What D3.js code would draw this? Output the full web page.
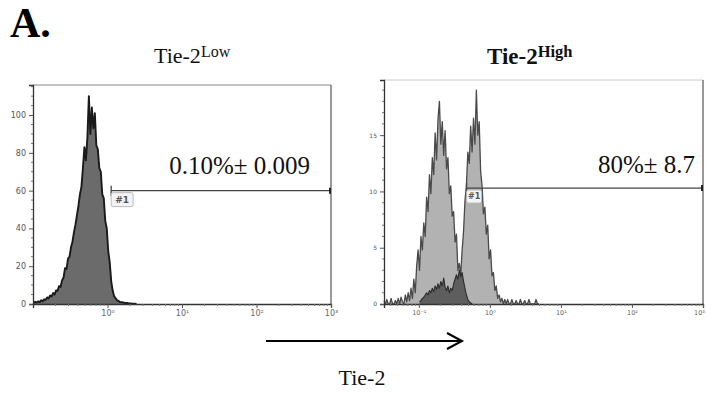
<!DOCTYPE html>
<html><head><meta charset="utf-8">
<script src="https://cdn.jsdelivr.net/npm/d3@7"></script>
<style>body{margin:0;background:#fff}svg{display:block}</style>
</head><body>
<svg id="c" width="706" height="396"></svg>
<script>
// ---- data ----
const binStep = 0.02; // log10 width of each histogram channel
// Tie-2 Low panel histogram (counts), channels start at log10 = -1.0
const lowStart = -1.0;
const lowCounts = [0.5,1.2,0.8,1.4,1.0,2.0,1.5,2.5,2.2,3.5,3.0,4.5,4.0,5.8,5.0,7.2,7.0,9.5,9.0,12.5,14.0,19.0,18.5,24.0,25.0,30.0,33.0,38.0,42.0,47.0,52.0,58.0,62.0,72.0,83.0,76.0,88.0,110.0,90.0,104.0,93.0,101.0,84.0,82.0,72.0,70.0,58.0,56.0,44.0,40.0,28.0,22.0,12.0,7.0,4.0,3.0,2.0,1.5,1.0,1.0,0.8,0.6,0.5,0.5,0.3,0.3,0.2,0.2,0.1,0];
// Tie-2 High panel, light histogram, channels start at log10 = -1.5
const highStart = -1.5;
const highCounts = [0.3,0,0.4,0,0,0.5,0,0,0.3,0,0.5,0,0.6,0.2,0,0.8,0.2,1.0,0.3,1.4,0.5,2.2,1.0,3.4,4.8,3.0,6.0,4.8,7.2,6.0,9.5,8.2,11.5,9.8,13.0,11.5,15.2,12.8,16.4,18.0,14.2,16.2,13.2,15.4,12.0,13.0,9.8,10.5,7.8,8.2,5.5,6.2,3.0,3.6,2.6,4.8,6.5,9.2,10.5,13.5,12.5,15.8,13.5,16.5,14.2,19.0,15.0,16.2,11.8,10.5,8.0,8.6,6.2,7.0,4.0,4.8,2.5,2.8,1.2,1.6,0.5,0.8,0.2,0.5,0,0.4,0,0.4,0,0,0.4,0,0,0.3,0,0,0.4,0,0,0.3,0,0,0.4,0,0,0,0,0.4,0,0];
// Tie-2 High panel, dark overlay histogram, channels start at log10 = -1.0
const ctrlStart = -1.0;
const ctrlCounts = [0.2,0.3,0.5,0.6,0.8,1.0,0.8,1.2,1.0,1.4,1.1,1.6,1.3,1.8,1.4,2.0,1.6,2.3,1.5,1.2,1.6,1.0,1.4,1.2,1.8,2.2,2.6,2.2,3.0,2.4,2.8,2.0,1.4,0.8,0.4,0.2,0.1,0];
// axes
const lowYTicks = [0,20,40,60,80,100];
const highYTicks = [0,5,10,15];
const lowXTicks = [1,10,100,1000];
const highXTicks = [0.1,1,10,100,1000];
const xTickLabels = {"-1":"10⁻¹","0":"10⁰","1":"10¹","2":"10²","3":"10³"};
// gates [from, to, level]
const lowGate = [1.12, 1000, 60];
const highGate = [0.47, 1000, 10.3];
const lowPct = "0.10%± 0.009";
const highPct = "80%± 8.7";

const svg = d3.select("#c");
const serif = "'Liberation Serif','Times New Roman',serif";
const sans = "'DejaVu Sans',sans-serif";

function panel(o){
  const g = svg.append("g");
  const x = d3.scaleLog().domain(o.xDomain).range([o.left,o.right]);
  const y = d3.scaleLinear().domain(o.yDomain).range([o.bottom,o.top]);
  // histograms
  o.hists.forEach(h=>{
    const pts = h.counts.map((c,i)=>({x:Math.pow(10,h.start+i*binStep+binStep/2),v:c}));
    const area = d3.area().x(d=>x(d.x)).y0(y(0)).y1(d=>y(d.v));
    const line = d3.line().x(d=>x(d.x)).y(d=>y(d.v));
    g.append("path").attr("d",area(pts)).attr("fill",h.fill);
    g.append("path").attr("d",line(pts)).attr("fill","none").attr("stroke",h.stroke).attr("stroke-width",h.sw).attr("stroke-linejoin","round");
  });
  // frame
  g.append("line").attr("x1",o.left).attr("x2",o.right).attr("y1",o.top).attr("y2",o.top).attr("stroke",o.topColor).attr("stroke-width",1);
  g.append("line").attr("x1",o.right).attr("x2",o.right).attr("y1",o.top).attr("y2",o.bottom).attr("stroke","#555").attr("stroke-width",1.2);
  // y axis
  const ya = d3.axisLeft(y).tickValues(o.yTicks).tickSize(4).tickPadding(3);
  const yg = g.append("g").attr("transform",`translate(${o.left},0)`).call(ya);
  yg.select(".domain").attr("stroke","#333").attr("stroke-width",1.3);
  yg.selectAll(".tick line").attr("stroke","#555");
  yg.selectAll("text").attr("font-family",sans).attr("font-size",o.yFont).attr("fill","#555");
  const yMinor = d3.range(0,o.yDomain[1],o.yMinor).filter(v=>!o.yTicks.includes(v));
  yg.selectAll(".mn").data(yMinor).enter().append("line").attr("x1",-2).attr("x2",0).attr("y1",d=>y(d)).attr("y2",d=>y(d)).attr("stroke","#777");
  // x axis
  const xa = d3.axisBottom(x).tickValues(o.xTicks).tickSize(4).tickPadding(2).tickFormat(d=>xTickLabels[String(Math.round(Math.log10(d)))]);
  const xg = g.append("g").attr("transform",`translate(0,${o.bottom})`).call(xa);
  xg.select(".domain").attr("stroke","#333").attr("stroke-width",1.3);
  xg.selectAll(".tick line").attr("stroke","#555");
  xg.selectAll("text").attr("font-family",sans).attr("font-size",o.xFont).attr("fill","#666")
    .attr("dx",d=>(x(d)>700?o.lastDx:0));
  const minors=[];
  for(let e=-2;e<3;e++) for(let k=2;k<10;k++){const v=k*Math.pow(10,e); if(v>o.xDomain[0]&&v<o.xDomain[1]) minors.push(v);}
  xg.selectAll(".mnx").data(minors).enter().append("line").attr("x1",d=>x(d)).attr("x2",d=>x(d)).attr("y1",0).attr("y2",2).attr("stroke","#777");
  // gate
  const gy = y(o.gate[2]);
  g.append("line").attr("x1",x(o.gate[0])).attr("x2",x(o.gate[1])).attr("y1",gy).attr("y2",gy).attr("stroke","#444").attr("stroke-width",1.3);
  g.append("line").attr("x1",x(o.gate[0])).attr("x2",x(o.gate[0])).attr("y1",gy-5).attr("y2",gy+5).attr("stroke","#444").attr("stroke-width",1.3);
  g.append("line").attr("x1",x(o.gate[1])-1).attr("x2",x(o.gate[1])-1).attr("y1",gy-3).attr("y2",gy+3).attr("stroke","#222").attr("stroke-width",2);
  const lx = x(o.gate[0]);
  g.append("rect").attr("x",lx).attr("y",gy+2).attr("width",o.lblW).attr("height",o.lblH).attr("rx",2).attr("fill","#f4f4f4").attr("stroke","#bbb");
  g.append("text").attr("x",lx+o.lblW/2).attr("y",gy+2+o.lblH/2+o.lblFont*0.36).attr("text-anchor","middle").attr("font-family",sans).attr("font-weight","bold").attr("font-size",o.lblFont).attr("fill","#555").text("#1");
  // percentage text
  g.append("text").attr("x",o.pctX).attr("y",o.pctY).attr("text-anchor","end").attr("font-family",serif).attr("font-size",25).attr("fill","#111").text(o.pct);
}

panel({left:33,right:331,top:85,bottom:304,xDomain:[0.1,1000],yDomain:[0,115.9],xTicks:lowXTicks,lastDx:0,
  hists:[{start:lowStart,counts:lowCounts,fill:"#6b6b6b",stroke:"#1a1a1a",sw:1.9}],
  topColor:"#888",yTicks:lowYTicks,yMinor:5,yFont:8,xFont:8,
  gate:lowGate,lblW:22,lblH:14,lblFont:9,pct:lowPct,pctX:310,pctY:174});

panel({left:384,right:703,top:80,bottom:304,xDomain:[Math.pow(10,-1.49),1000],yDomain:[0,19.9],xTicks:highXTicks,lastDx:-4,
  hists:[{start:highStart,counts:highCounts,fill:"#b2b2b2",stroke:"#4a4a4a",sw:1.3},
         {start:ctrlStart,counts:ctrlCounts,fill:"#5e5e5e",stroke:"#2a2a2a",sw:1.1}],
  topColor:"#ccc",yTicks:highYTicks,yMinor:1,yFont:6,xFont:6.5,
  gate:highGate,lblW:15,lblH:13,lblFont:8,pct:highPct,pctX:695,pctY:173});

// titles
svg.append("text").attr("x",10).attr("y",37).attr("font-family",serif).attr("font-weight","bold").attr("font-size",42).attr("fill","#000").text("A.");
const t1 = svg.append("text").attr("x",154).attr("y",63).attr("font-family",serif).attr("font-size",22).attr("fill","#111");
t1.append("tspan").text("Tie-2");
t1.append("tspan").attr("font-size",16).attr("dy",-6).text("Low");
const t2 = svg.append("text").attr("x",487).attr("y",64).attr("font-family",serif).attr("font-weight","bold").attr("font-size",23).attr("fill","#111");
t2.append("tspan").text("Tie-2");
t2.append("tspan").attr("font-size",16.5).attr("dy",-7).text("High");

// arrow
svg.append("line").attr("x1",266).attr("x2",461).attr("y1",341).attr("y2",341).attr("stroke","#000").attr("stroke-width",2);
svg.append("path").attr("d","M447,333 L462,341 L447,349").attr("fill","none").attr("stroke","#000").attr("stroke-width",2);
svg.append("text").attr("x",362).attr("y",385).attr("text-anchor","middle").attr("font-family",serif).attr("font-size",22).attr("fill","#111").text("Tie-2");
</script>
</body></html>
